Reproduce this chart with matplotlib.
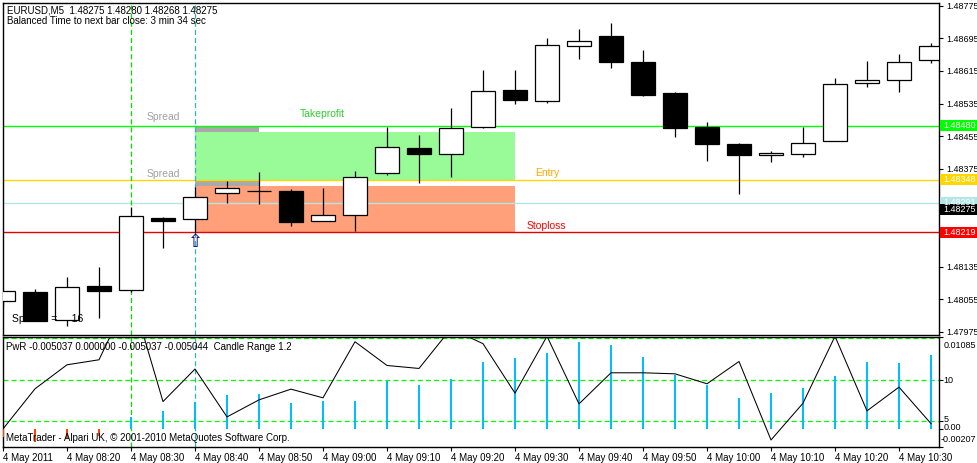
import matplotlib
matplotlib.use('Agg')
import matplotlib.pyplot as plt
from matplotlib.patches import Rectangle
import numpy as np

plt.rcParams['font.family'] = ['Liberation Sans', 'DejaVu Sans']

W, H = 977, 463

# ---------------- data ----------------
time_labels = ['4 May 2011', '4 May 08:20', '4 May 08:30', '4 May 08:40', '4 May 08:50',
               '4 May 09:00', '4 May 09:10', '4 May 09:20', '4 May 09:30', '4 May 09:40',
               '4 May 09:50', '4 May 10:00', '4 May 10:10', '4 May 10:20', '4 May 10:30']

opens = [1.48050, 1.48072, 1.48003, 1.48087, 1.48078, 1.48254, 1.48251, 1.48315, 1.48320, 1.48320,
         1.48247, 1.48261, 1.48364, 1.48426, 1.48412, 1.48477, 1.48568, 1.48540, 1.48675, 1.48701,
         1.48637, 1.48561, 1.48478, 1.48436, 1.48408, 1.48410, 1.48442, 1.48585, 1.48592, 1.48641]
highs = [1.48074, 1.48080, 1.48109, 1.48134, 1.48281, 1.48257, 1.48331, 1.48345, 1.48367, 1.48325,
         1.48328, 1.48369, 1.48478, 1.48458, 1.48524, 1.48617, 1.48617, 1.48696, 1.48718, 1.48733,
         1.48666, 1.48563, 1.48490, 1.48437, 1.48419, 1.48478, 1.48598, 1.48639, 1.48657, 1.48683]
lows = [1.48038, 1.48001, 1.47989, 1.48009, 1.48073, 1.48181, 1.48217, 1.48292, 1.48289, 1.48235,
        1.48246, 1.48223, 1.48359, 1.48341, 1.48355, 1.48474, 1.48535, 1.48537, 1.48644, 1.48623,
        1.48553, 1.48454, 1.48394, 1.48312, 1.48391, 1.48403, 1.48442, 1.48576, 1.48564, 1.48635]
closes = [1.48074, 1.48002, 1.48085, 1.48076, 1.48259, 1.48247, 1.48305, 1.48327, 1.48320, 1.48245,
          1.48261, 1.48354, 1.48428, 1.48412, 1.48475, 1.48566, 1.48544, 1.48679, 1.48688, 1.48638,
          1.48557, 1.48476, 1.48436, 1.48409, 1.48414, 1.48438, 1.48582, 1.48593, 1.48637, 1.48675]

pwr = [0.00002, 0.00473, 0.00755, 0.00814, 0.01600, 0.00323, 0.00705, 0.00143, 0.00343, 0.00469,
       0.00367, 0.01026, 0.00747, 0.00712, 0.01180, 0.01003, 0.00422, 0.01090, 0.00296, 0.00661,
       0.00661, 0.00649, 0.00532, 0.00794, -0.00128, 0.00304, 0.01090, 0.00214, 0.00493, 0.00064]
candle_range = [-0.00093, -0.00148, -0.00105, -0.00081, 0.00146, 0.00214, 0.00323, 0.00402, 0.00417, 0.00311,
                0.00331, 0.00331, 0.00567, 0.00520, 0.00591, 0.00791, 0.00838, 0.00897, 0.01018, 0.00991,
                0.00850, 0.00638, 0.00512, 0.00367, 0.00429, 0.00485, 0.00629, 0.00791, 0.00779, 0.00865]
levels = [0.01073, 0.00575, 0.00096]

price_ticks = [1.48775, 1.48695, 1.48615, 1.48535, 1.48455, 1.48375, 1.48135, 1.48055, 1.47975]

takeprofit = 1.48480
entry = 1.48348
ask = 1.48291
bid = 1.48275
stoploss = 1.48219
spread = 0.00016
trade_start, trade_end, spread_end = 6, 16, 8
vline_green, vline_cyan = 4, 6

# ---------------- figure ----------------
fig = plt.figure(figsize=(W / 100, H / 100), dpi=100)
fig.patch.set_facecolor('white')


def ax_rect(x0, y0, x1, y1):
    return [x0 / W, 1 - y1 / H, (x1 - x0) / W, (y1 - y0) / H]


ax = fig.add_axes(ax_rect(2.5, 2.5, 939, 335))
ax2 = fig.add_axes(ax_rect(2.5, 336.7, 939, 446.7))

n = len(opens)
idx = np.arange(n)
o = np.array(opens); c = np.array(closes)
hi = np.array(highs); lo = np.array(lows)
bull = c >= o

xl = (-0.5 / 32, 936.0 / 32)
ax.set_xlim(*xl)
ax.set_ylim(1.479669, 1.487829)
ax2.set_xlim(*xl)
ax2.set_ylim(-0.00207, 0.01085)

for a in (ax, ax2):
    for s in a.spines.values():
        s.set_linewidth(1.0)
        s.set_color('black')

# zones
ax.add_patch(Rectangle((trade_start, entry), trade_end - trade_start, takeprofit - spread - entry,
                       facecolor='#98FB98', edgecolor='none', zorder=1))
ax.add_patch(Rectangle((trade_start, stoploss), trade_end - trade_start, entry - spread - stoploss,
                       facecolor='#FFA07A', edgecolor='none', zorder=1))
ax.add_patch(Rectangle((trade_start, takeprofit - spread), spread_end - trade_start, spread,
                       facecolor='#A9A9A9', edgecolor='none', zorder=1))
ax.add_patch(Rectangle((trade_start, entry - spread), spread_end - trade_start, spread,
                       facecolor='#A9A9A9', edgecolor='none', zorder=1))

# horizontal lines
ax.axhline(takeprofit, color='#00FF00', lw=1.0, zorder=2)
ax.axhline(entry, color='#FFD700', lw=1.0, zorder=2)
ax.axhline(ask, color='#B4E6E6', lw=1.0, zorder=2)
ax.axhline(stoploss, color='#E60000', lw=1.0, zorder=2)

# vertical dashed lines
for a in (ax, ax2):
    a.axvline(vline_green, color='#00E000', lw=0.9, ls=(0, (4, 2.5)), zorder=2)
    a.axvline(vline_cyan, color='#30B0C0', lw=0.9, ls=(0, (4, 2.5)), zorder=2)

# candles
ax.vlines(idx, lo, hi, color='black', lw=0.9, zorder=4)
ax.bar(idx, np.abs(c - o), bottom=np.minimum(o, c), width=0.77,
       color=['white' if b else 'black' for b in bull], edgecolor='black', lw=0.9, zorder=5)

# annotations
fs = 7
rfs = 6.5
ax.annotate('Takeprofit', (9.28, takeprofit), xytext=(0, 12), textcoords='offset pixels',
            color='#32CD32', fontsize=7.5, ha='left', va='center')
ax.annotate('Entry', (16.62, entry), xytext=(0, 7), textcoords='offset pixels',
            color='#FFA500', fontsize=7.5, ha='left', va='center')
ax.annotate('Stoploss', (16.37, stoploss), xytext=(0, 6), textcoords='offset pixels',
            color='#FF0000', fontsize=7.5, ha='left', va='center')
ax.annotate('Spread', (5.0, takeprofit), xytext=(0, 8.5), textcoords='offset pixels',
            color='#A0A0A0', fontsize=7.5, ha='center', va='center')
ax.annotate('Spread', (5.0, entry), xytext=(0, 6), textcoords='offset pixels',
            color='#A0A0A0', fontsize=7.5, ha='center', va='center')
ax.annotate('\u21e7', (trade_start, stoploss), xytext=(0, -10), textcoords='offset pixels',
            color='#000080', fontsize=13, ha='center', va='center', family='DejaVu Sans', zorder=6)

# right price axis
ax.yaxis.tick_right()
ax.set_yticks(price_ticks)
ax.set_yticklabels(['%.5f' % p for p in price_ticks])
ax.tick_params(axis='y', length=3, width=0.8, labelsize=rfs, pad=2)
ax.set_xticks([])

ytr = ax.get_yaxis_transform()
lab_h = 11 / 40750.0
for price, col in [(ask, '#B4E6E6'), (bid, 'black'), (stoploss, '#FF0000'),
                   (takeprofit, '#00FF00'), (entry, '#FFD700')]:
    ax.add_patch(Rectangle((1.0012, price - lab_h / 2), 0.04, lab_h, transform=ytr,
                           facecolor=col, edgecolor='none', clip_on=False, zorder=7))
    ax.text(1.0045, price, '%.5f' % price, transform=ytr, color='white', fontsize=rfs,
            ha='left', va='center', clip_on=False, zorder=8)

# lower panel
ax2.bar(idx, candle_range, width=0.08,
        color=['#FF4500' if v < 0 else '#00BFFF' for v in candle_range], zorder=3)
ax2.plot(idx, pwr, color='black', lw=0.75, zorder=4)
for lv in levels:
    ax2.axhline(lv, color='#00FF00', lw=0.9, ls=(0, (4, 2.5)), zorder=2)

ax2.yaxis.tick_right()
ax2.set_yticks([0.01085, levels[1], levels[2], 0.0, -0.00207])
ax2.set_yticklabels([])
ax2.tick_params(axis='y', length=3, width=0.8)
ax2.set_xticks(idx[::2])
ax2.set_xticklabels(time_labels, ha='left')
ax2.tick_params(axis='x', length=3, width=0.8, labelsize=fs, pad=1.5)


def ftext(x, y, s, **kw):
    fig.text(x / W, 1 - y / H, s, fontsize=kw.pop('fontsize', fs), va='center', **kw)


ftext(943.5, 345, '0.01085', fontsize=rfs)
ftext(943.5, 380.3, '10', fontsize=rfs)
ftext(943.5, 419.3, '5', fontsize=rfs)
ftext(943.5, 427.7, '0.00', fontsize=rfs)
ftext(940.5, 439.5, '-0.00207', fontsize=rfs)

ftext(7, 10.5, 'EURUSD,M5  1.48275 1.48280 1.48268 1.48275')
ftext(7, 20.5, 'Balanced Time to next bar close: 3 min 34 sec')
ftext(12.5, 319.5, 'Spread  =     16', fontsize=7.5)
ftext(6.5, 347.3, 'PwR -0.005037 0.000000 -0.005037 -0.005044  Candle Range 1.2')
ftext(6, 437.7, 'MetaTrader - Alpari UK, \u00a9 2001-2010 MetaQuotes Software Corp.')

fig.savefig('out.png', dpi=100, facecolor='white')
